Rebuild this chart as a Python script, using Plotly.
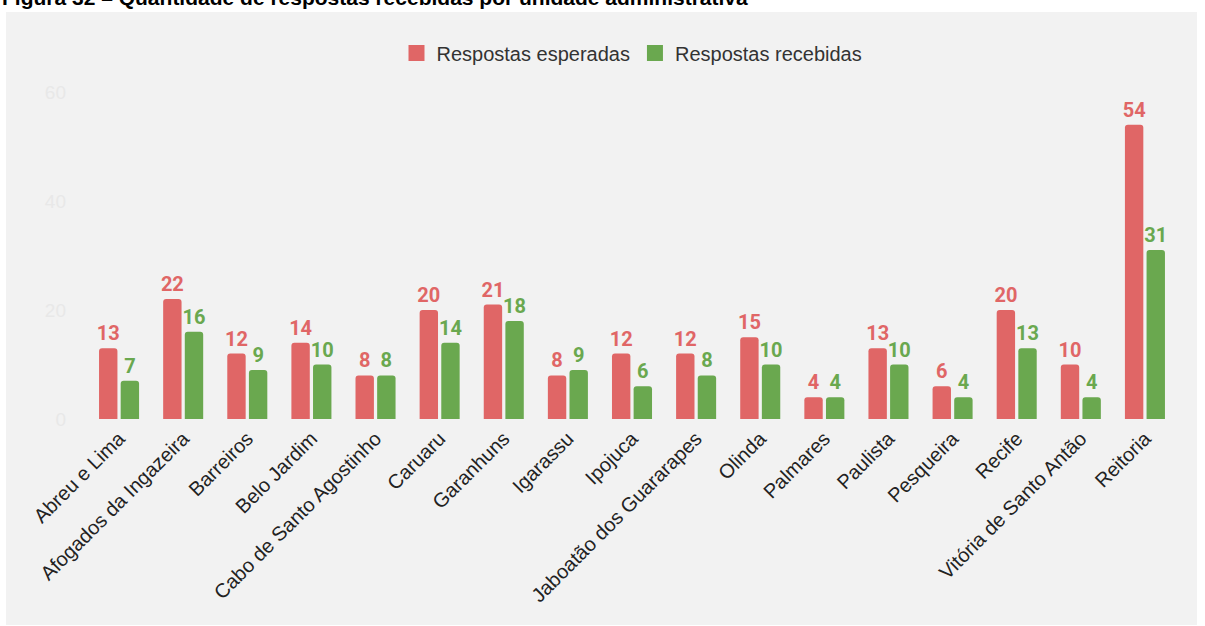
import plotly.graph_objects as go

categories = ["Abreu e Lima", "Afogados da Ingazeira", "Barreiros", "Belo Jardim",
              "Cabo de Santo Agostinho", "Caruaru", "Garanhuns", "Igarassu", "Ipojuca",
              "Jaboatão dos Guararapes", "Olinda", "Palmares", "Paulista", "Pesqueira",
              "Recife", "Vitória de Santo Antão", "Reitoria"]
esperadas = [13, 22, 12, 14, 8, 20, 21, 8, 12, 12, 15, 4, 13, 6, 20, 10, 54]
recebidas = [7, 16, 9, 10, 8, 14, 18, 9, 6, 8, 10, 4, 10, 4, 13, 4, 31]
y_ticks = [0, 20, 40, 60]
series_names = ["Respostas esperadas", "Respostas recebidas"]

RED = "#e06666"
GREEN = "#6aa84f"

W, H = 1205, 626
ML, MR, MT, MB = 87, 28, 92, 207
PW, PH = W - ML - MR, H - MT - MB


def px_x(px):
    return (px - ML) / PW


def px_y(py):
    return (H - MB - py) / PH


fig = go.Figure()
for vals, name, col in [(esperadas, series_names[0], RED), (recebidas, series_names[1], GREEN)]:
    fig.add_trace(go.Bar(
        x=categories, y=vals, name=name, legendgroup=name, showlegend=False,
        marker=dict(color=col, line=dict(width=0)),
        text=[str(v) for v in vals], textposition="outside", constraintext="none",
        textfont=dict(family="Roboto", size=20, color=col, weight="bold"),
        cliponaxis=False,
    ))
for name, col in [(series_names[0], RED), (series_names[1], GREEN)]:
    fig.add_trace(go.Scatter(
        x=[None], y=[None], mode="markers", name=name, legendgroup=name,
        marker=dict(symbol="square", size=16, color=col, line=dict(width=0)),
        showlegend=True,
    ))

fig.add_shape(type="rect", xref="paper", yref="paper",
              x0=px_x(6), x1=px_x(1197), y0=px_y(625), y1=px_y(12),
              fillcolor="#f2f2f2", line=dict(width=0), layer="below")

fig.add_annotation(
    text="Figura 32 – Quantidade de respostas recebidas por unidade administrativa",
    xref="paper", yref="paper", x=px_x(0), y=px_y(11),
    xanchor="left", yanchor="bottom", showarrow=False,
    font=dict(family="Liberation Sans", size=21, color="#000000", weight="bold"),
)

fig.update_layout(
    width=W, height=H,
    margin=dict(l=ML, r=MR, t=MT, b=MB, pad=0),
    paper_bgcolor="white", plot_bgcolor="rgba(0,0,0,0)",
    barmode="group", bargap=0.325, bargroupgap=0.15, barcornerradius=3,
    font=dict(family="Liberation Sans, Arial", color="#222222"),
    legend=dict(orientation="h", x=0.5, xanchor="center", y=px_y(53), yanchor="middle",
                font=dict(size=20, color="#333333"), bgcolor="rgba(0,0,0,0)",
                itemsizing="trace", itemwidth=30),
    showlegend=True,
)
fig.update_xaxes(tickangle=-45, tickfont=dict(size=20, color="#222222"),
                 ticklabelstandoff=3,
                 showgrid=False, showline=False, zeroline=False, ticks="")
fig.update_yaxes(range=[0, 60], tickvals=y_ticks, ticktext=[str(v) for v in y_ticks],
                 tickfont=dict(size=19, color="#e8e8e8"), ticklabelstandoff=20,
                 showgrid=False, showline=False, zeroline=False, ticks="")

fig.write_html("out.html")
